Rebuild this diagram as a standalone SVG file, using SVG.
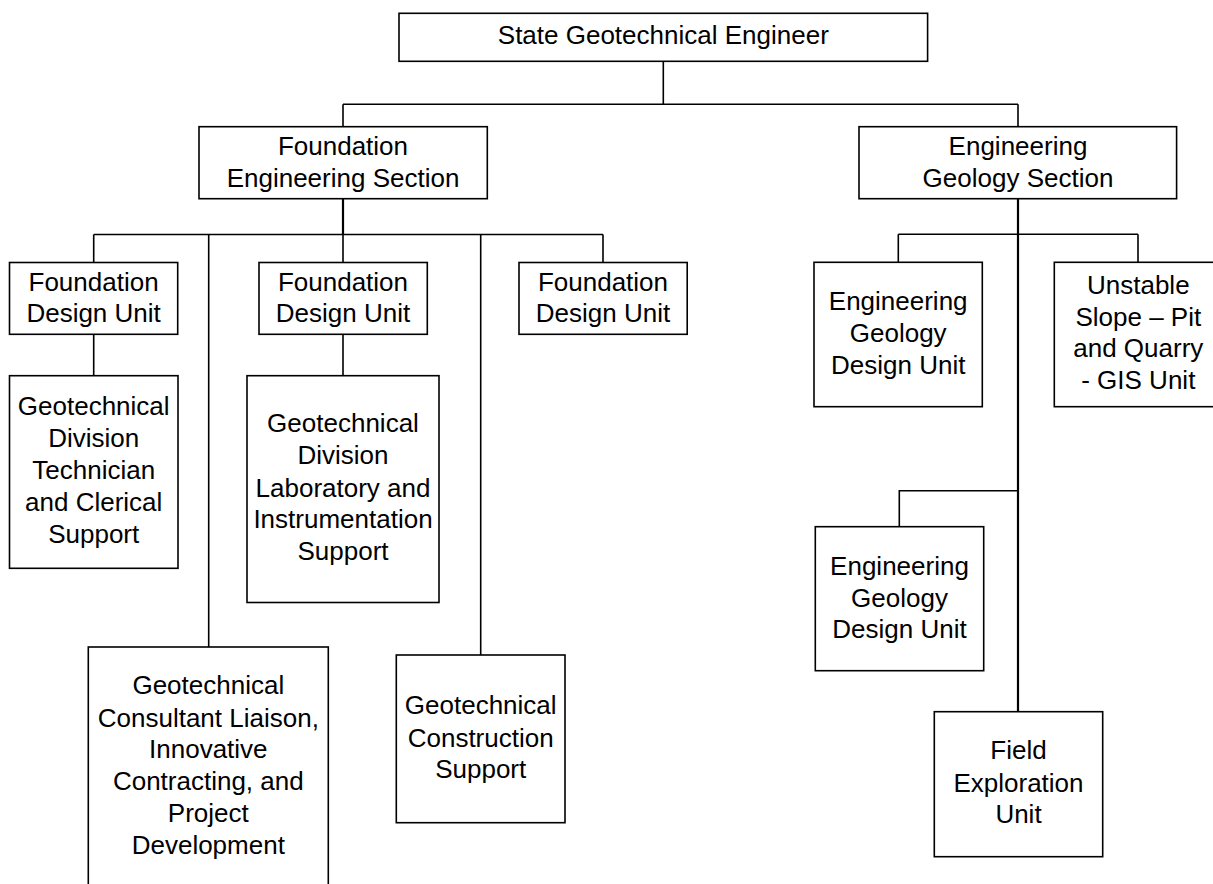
<svg xmlns="http://www.w3.org/2000/svg" width="1213" height="884" viewBox="0 0 1213 884">
<style>
  .box { fill: #ffffff; stroke: #000000; stroke-width: 1.6; }
  .lbl { font-family: "Liberation Sans", Arial, sans-serif; font-size: 26px; fill: #000000; text-anchor: middle; }
  .conn path { fill: none; stroke: #000000; stroke-width: 1.6; }
  .conn path.stem { stroke-width: 2.2; }
</style>
<rect x="0" y="0" width="1213" height="884" fill="#ffffff"/>
<g id="connectors" class="conn">
  <path d="M663.3,61.3 V104.3"/>
  <path d="M343,104.3 H1018 M343,104.3 V126.7 M1018,104.3 V126.7"/>
  <path class="stem" d="M343,198.7 V234.5"/>
  <path d="M93.7,234.5 H603"/>
  <path d="M93.7,234.5 V262.5 M343,234.5 V262.5 M603,234.5 V262.5"/>
  <path d="M208.7,234.5 V647 M480.7,234.5 V655"/>
  <path d="M93.7,334.3 V375.7 M343,334.3 V375.7"/>
  <path class="stem" d="M1018,198.7 V711.7"/>
  <path d="M898.3,234.3 H1138 M898.3,234.3 V262.3 M1138,234.3 V262.3"/>
  <path d="M1018,490.7 H899.3 V526.7"/>
</g>
<g id="state-geotechnical-engineer">
  <rect class="box" x="399" y="13.3" width="528.6" height="48"/>
  <text class="lbl" x="663.3" y="44.3">State Geotechnical Engineer</text>
</g>
<g id="foundation-engineering-section">
  <rect class="box" x="199" y="126.7" width="288.3" height="72"/>
  <text class="lbl" x="343" y="155">Foundation</text>
  <text class="lbl" x="343" y="186.7">Engineering Section</text>
</g>
<g id="engineering-geology-section">
  <rect class="box" x="859" y="126.7" width="317.6" height="72"/>
  <text class="lbl" x="1018" y="155">Engineering</text>
  <text class="lbl" x="1018" y="186.7">Geology Section</text>
</g>
<g id="foundation-design-unit-1">
  <rect class="box" x="9.5" y="262.5" width="168.2" height="71.8"/>
  <text class="lbl" x="93.6" y="290.7">Foundation</text>
  <text class="lbl" x="93.6" y="322.3">Design Unit</text>
</g>
<g id="foundation-design-unit-2">
  <rect class="box" x="259" y="262.5" width="168.3" height="71.8"/>
  <text class="lbl" x="343" y="290.7">Foundation</text>
  <text class="lbl" x="343" y="322.3">Design Unit</text>
</g>
<g id="foundation-design-unit-3">
  <rect class="box" x="519" y="262.5" width="168.2" height="71.8"/>
  <text class="lbl" x="603" y="290.7">Foundation</text>
  <text class="lbl" x="603" y="322.3">Design Unit</text>
</g>
<g id="technician-clerical-support">
  <rect class="box" x="9.5" y="375.7" width="168.5" height="192.6"/>
  <text class="lbl" x="93.7" y="415">Geotechnical</text>
  <text class="lbl" x="93.7" y="447">Division</text>
  <text class="lbl" x="93.7" y="479">Technician</text>
  <text class="lbl" x="93.7" y="511">and Clerical</text>
  <text class="lbl" x="93.7" y="542.7">Support</text>
</g>
<g id="laboratory-instrumentation-support">
  <rect class="box" x="247" y="375.7" width="192" height="226.8"/>
  <text class="lbl" x="343" y="432.3">Geotechnical</text>
  <text class="lbl" x="343" y="464.3">Division</text>
  <text class="lbl" x="343" y="496.5">Laboratory and</text>
  <text class="lbl" x="343" y="528.3">Instrumentation</text>
  <text class="lbl" x="343" y="560">Support</text>
</g>
<g id="consultant-liaison">
  <rect class="box" x="88.3" y="647" width="240" height="260"/>
  <text class="lbl" x="208.3" y="694.3">Geotechnical</text>
  <text class="lbl" x="208.3" y="726.5">Consultant Liaison,</text>
  <text class="lbl" x="208.3" y="758.3">Innovative</text>
  <text class="lbl" x="208.3" y="790">Contracting, and</text>
  <text class="lbl" x="208.3" y="821.7">Project</text>
  <text class="lbl" x="208.3" y="854">Development</text>
</g>
<g id="construction-support">
  <rect class="box" x="396.3" y="655" width="168.7" height="167.7"/>
  <text class="lbl" x="480.7" y="714.3">Geotechnical</text>
  <text class="lbl" x="480.7" y="746.5">Construction</text>
  <text class="lbl" x="480.7" y="778.3">Support</text>
</g>
<g id="engineering-geology-design-unit-1">
  <rect class="box" x="814" y="262.3" width="168.3" height="144.4"/>
  <text class="lbl" x="898.2" y="310">Engineering</text>
  <text class="lbl" x="898.2" y="342">Geology</text>
  <text class="lbl" x="898.2" y="374">Design Unit</text>
</g>
<g id="unstable-slope-unit">
  <rect class="box" x="1054.3" y="262.3" width="168" height="144.4"/>
  <text class="lbl" x="1138.3" y="294">Unstable</text>
  <text class="lbl" x="1138.3" y="326">Slope – Pit</text>
  <text class="lbl" x="1138.3" y="357">and Quarry</text>
  <text class="lbl" x="1138.3" y="389">- GIS Unit</text>
</g>
<g id="engineering-geology-design-unit-2">
  <rect class="box" x="815.3" y="526.7" width="168.4" height="144"/>
  <text class="lbl" x="899.5" y="575">Engineering</text>
  <text class="lbl" x="899.5" y="606.7">Geology</text>
  <text class="lbl" x="899.5" y="638.3">Design Unit</text>
</g>
<g id="field-exploration-unit">
  <rect class="box" x="934.3" y="711.7" width="168.4" height="145"/>
  <text class="lbl" x="1018.5" y="759.3">Field</text>
  <text class="lbl" x="1018.5" y="791.5">Exploration</text>
  <text class="lbl" x="1018.5" y="823.3">Unit</text>
</g>
</svg>
